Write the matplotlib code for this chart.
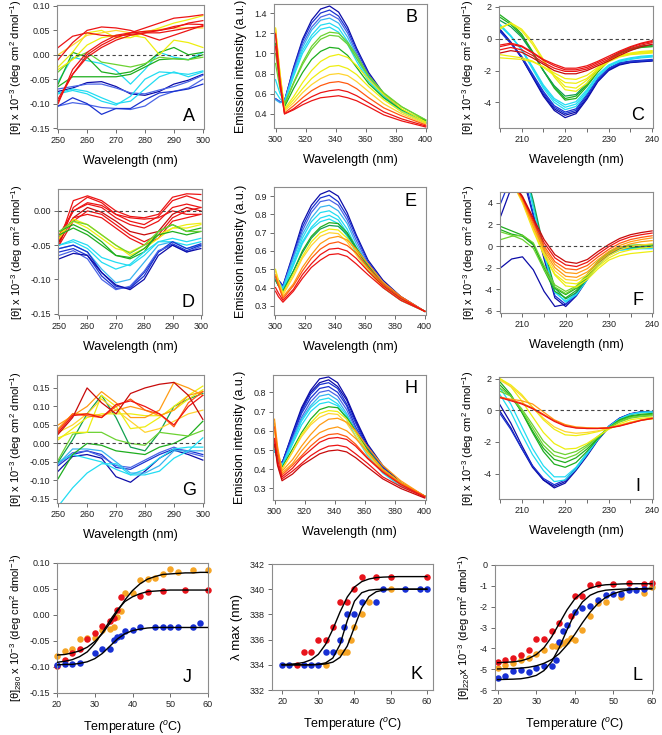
import matplotlib
matplotlib.use('Agg')
import matplotlib.pyplot as plt
from matplotlib.ticker import FormatStrFormatter

plt.rcParams['font.family'] = ['Liberation Sans', 'DejaVu Sans']
plt.rcParams['mathtext.fontset'] = 'custom'
plt.rcParams['mathtext.rm'] = 'Liberation Sans'
plt.rcParams['mathtext.it'] = 'Liberation Sans:italic'
plt.rcParams['mathtext.bf'] = 'Liberation Sans:bold'
plt.rcParams['axes.unicode_minus'] = False

# ---------------- DATA ----------------
# near-UV CD wavelengths (nm)
nuv_wl = [250, 255, 260, 265, 270, 275, 280, 285, 290, 295, 300]
# far-UV CD wavelengths (nm)
fuv_wl = [205, 207.5, 210, 212.5, 215, 217.5, 220, 222.5, 225, 227.5, 230, 232.5, 235, 237.5, 240]
# emission wavelengths (nm)
em_wl_B = [300, 303, 306, 312, 318, 324, 330, 336, 342, 348, 354, 362, 372, 384, 400]
em_wl_EH = [300, 302, 305, 312, 318, 324, 330, 336, 342, 348, 354, 362, 372, 384, 400]

A_curves = [
    [-0.105, -0.098, -0.102, -0.108, -0.11, -0.112, -0.105, -0.085, -0.075, -0.068, -0.05],
    [-0.105, -0.088, -0.1, -0.122, -0.11, -0.11, -0.092, -0.078, -0.075, -0.07, -0.06],
    [-0.075, -0.068, -0.057, -0.055, -0.065, -0.08, -0.083, -0.075, -0.06, -0.052, -0.04],
    [-0.07, -0.065, -0.06, -0.06, -0.068, -0.078, -0.08, -0.072, -0.065, -0.055, -0.042],
    [-0.078, -0.07, -0.075, -0.088, -0.1, -0.095, -0.07, -0.045, -0.035, -0.045, -0.035],
    [-0.08, -0.073, -0.08, -0.095, -0.103, -0.085, -0.05, -0.035, -0.037, -0.04, -0.033],
    [-0.055, -0.005, -0.012, -0.018, -0.032, -0.06, -0.03, 0.005, -0.005, -0.01, 0.005],
    [-0.06, 0.005, -0.005, -0.035, -0.04, -0.035, -0.02, 0.005, 0.015, 0.0, 0.005],
    [-0.065, -0.045, -0.045, -0.045, -0.045, -0.04, -0.025, -0.01, -0.008, -0.01, 0.0],
    [-0.035, -0.008, 0.005, -0.015, -0.02, -0.025, -0.018, -0.005, -0.008, -0.01, -0.005],
    [-0.03, -0.01, 0.02, 0.035, 0.04, 0.04, 0.035, 0.0, 0.03, 0.025, 0.015],
    [-0.025, 0.005, 0.045, 0.05, 0.035, 0.035, 0.045, 0.055, 0.065, 0.072, 0.08],
    [0.0, 0.02, 0.04, 0.045, 0.05, 0.045, 0.048, 0.052, 0.055, 0.055, 0.055],
    [-0.01, 0.025, 0.05, 0.057, 0.055, 0.05, 0.04, 0.03, 0.04, 0.05, 0.06],
    [-0.095, -0.04, 0.0, 0.02, 0.035, 0.045, 0.048, 0.05, 0.055, 0.065, 0.07],
    [-0.1, -0.03, 0.005, 0.025, 0.04, 0.045, 0.055, 0.065, 0.075, 0.078, 0.082],
    [-0.09, -0.04, -0.005, 0.015, 0.03, 0.04, 0.045, 0.05, 0.058, 0.063, 0.062],
    [0.015, 0.038, 0.045, 0.04, 0.038, 0.042, 0.045, 0.045, 0.05, 0.055, 0.058],
]
A_colors = "lbBlcccggGyyYrrrrr"

B_curves = [
    [.55, .52, .53, .86, 1.14, 1.33, 1.44, 1.47, 1.41, 1.26, 1.05, .81, .60, .44, .31],
    [.55, .52, .53, .85, 1.12, 1.30, 1.40, 1.43, 1.37, 1.23, 1.03, .79, .59, .43, .31],
    [.55, .52, .53, .83, 1.09, 1.26, 1.36, 1.39, 1.34, 1.20, 1.00, .77, .58, .43, .31],
    [.54, .51, .52, .81, 1.06, 1.23, 1.33, 1.35, 1.30, 1.16, .98, .76, .57, .42, .31],
    [.74, .60, .52, .79, 1.03, 1.18, 1.28, 1.30, 1.25, 1.12, .95, .74, .57, .43, .32],
    [.62, .55, .51, .77, 1.00, 1.15, 1.24, 1.26, 1.21, 1.09, .92, .72, .56, .42, .32],
    [.90, .65, .50, .71, .91, 1.07, 1.17, 1.21, 1.20, 1.11, .98, .78, .61, .47, .34],
    [1.00, .70, .49, .70, .89, 1.04, 1.14, 1.18, 1.17, 1.09, .95, .77, .60, .47, .34],
    [1.10, .75, .47, .65, .81, .94, 1.02, 1.06, 1.05, .98, .86, .70, .56, .44, .33],
    [1.25, .80, .45, .57, .71, .83, .92, .97, .99, .96, .88, .74, .59, .45, .32],
    [1.25, .80, .44, .54, .65, .75, .82, .87, .88, .85, .79, .67, .54, .42, .31],
    [1.24, .78, .43, .51, .61, .69, .75, .79, .80, .78, .72, .62, .50, .40, .30],
    [1.20, .75, .41, .48, .56, .63, .68, .71, .72, .70, .65, .56, .46, .38, .29],
    [1.19, .72, .40, .45, .52, .57, .61, .63, .64, .62, .58, .51, .42, .35, .28],
    [1.07, .68, .40, .44, .49, .53, .56, .57, .58, .56, .53, .47, .39, .33, .27],
]
B_colors = "BblCccGGgyyYOrr"

C_curves = [
    [0.6, -0.2, -1.2, -2.4, -3.6, -4.5, -4.95, -4.7, -3.8, -2.7, -2.0, -1.65, -1.5, -1.45, -1.4],
    [0.55, -0.25, -1.2, -2.35, -3.5, -4.4, -4.8, -4.6, -3.7, -2.65, -1.95, -1.6, -1.48, -1.42, -1.38],
    [0.5, -0.25, -1.15, -2.3, -3.4, -4.3, -4.7, -4.5, -3.6, -2.6, -1.9, -1.55, -1.45, -1.4, -1.35],
    [0.45, -0.3, -1.1, -2.2, -3.3, -4.2, -4.6, -4.4, -3.5, -2.5, -1.85, -1.5, -1.4, -1.35, -1.3],
    [0.9, 0.2, -0.7, -1.9, -3.1, -4.0, -4.45, -4.25, -3.4, -2.4, -1.75, -1.45, -1.3, -1.2, -1.15],
    [0.85, 0.15, -0.7, -1.8, -3.0, -3.85, -4.3, -4.1, -3.3, -2.3, -1.7, -1.4, -1.25, -1.15, -1.1],
    [0.8, 0.15, -0.65, -1.75, -2.9, -3.75, -4.15, -3.95, -3.2, -2.25, -1.65, -1.35, -1.2, -1.1, -1.05],
    [1.5, 1.0, 0.3, -0.8, -2.0, -3.1, -3.85, -3.75, -3.0, -2.1, -1.4, -0.95, -0.7, -0.55, -0.5],
    [1.35, 0.9, 0.2, -0.85, -2.0, -3.0, -3.75, -3.6, -2.9, -2.0, -1.35, -0.9, -0.65, -0.5, -0.45],
    [1.15, 0.75, 0.1, -0.9, -2.0, -2.95, -3.6, -3.5, -2.8, -1.95, -1.3, -0.85, -0.6, -0.45, -0.4],
    [0.6, 1.0, 0.6, -0.2, -1.3, -2.4, -3.2, -3.3, -2.8, -2.0, -1.45, -1.15, -1.0, -0.95, -0.9],
    [0.7, 0.95, 0.5, -0.35, -1.4, -2.3, -3.0, -3.1, -2.6, -1.9, -1.4, -1.1, -0.95, -0.9, -0.85],
    [-1.0, -1.1, -1.2, -1.4, -1.8, -2.3, -2.75, -2.8, -2.5, -1.9, -1.4, -1.1, -0.95, -0.85, -0.8],
    [-1.2, -1.25, -1.3, -1.45, -1.75, -2.15, -2.5, -2.55, -2.3, -1.8, -1.35, -1.05, -0.9, -0.8, -0.75],
    [-0.9, -0.75, -0.85, -1.2, -1.6, -2.0, -2.2, -2.2, -2.0, -1.7, -1.4, -1.05, -0.75, -0.5, -0.35],
    [-0.7, -0.55, -0.7, -1.05, -1.5, -1.85, -2.05, -2.05, -1.9, -1.6, -1.3, -0.95, -0.65, -0.4, -0.25],
    [-0.5, -0.35, -0.5, -0.9, -1.35, -1.7, -1.95, -1.95, -1.8, -1.5, -1.2, -0.85, -0.55, -0.32, -0.18],
    [-0.4, -0.28, -0.45, -0.85, -1.3, -1.6, -1.85, -1.85, -1.7, -1.42, -1.1, -0.78, -0.5, -0.28, -0.12],
]
C_colors = "BBbbcccggeyyyyRrrr"

D_curves = [
    [-0.045, 0.015, 0.022, 0.015, 0.0, -0.008, -0.01, -0.005, 0.02, 0.025, 0.024],
    [-0.05, 0.005, 0.02, 0.012, -0.005, -0.015, -0.02, -0.008, 0.015, 0.022, 0.015],
    [-0.04, 0.0, 0.01, 0.005, -0.01, -0.02, -0.025, -0.015, 0.005, 0.01, 0.005],
    [-0.045, -0.01, 0.005, -0.002, -0.015, -0.03, -0.035, -0.03, -0.005, 0.005, 0.0],
    [-0.05, -0.015, 0.0, -0.005, -0.02, -0.035, -0.045, -0.035, -0.01, 0.0, 0.005],
    [-0.04, -0.01, -0.005, -0.01, -0.025, -0.04, -0.05, -0.04, -0.015, -0.01, -0.005],
    [-0.035, 0.0, 0.012, 0.008, -0.005, -0.01, -0.012, -0.01, 0.0, -0.005, -0.005],
    [-0.04, -0.012, -0.02, -0.035, -0.05, -0.065, -0.055, -0.04, -0.025, -0.02, -0.018],
    [-0.035, -0.015, -0.025, -0.04, -0.055, -0.06, -0.05, -0.035, -0.025, -0.025, -0.02],
    [-0.03, -0.02, -0.03, -0.045, -0.065, -0.07, -0.06, -0.03, -0.02, -0.03, -0.025],
    [-0.035, -0.025, -0.035, -0.05, -0.065, -0.068, -0.055, -0.035, -0.03, -0.035, -0.03],
    [-0.03, -0.015, -0.02, -0.035, -0.05, -0.062, -0.05, -0.03, -0.02, -0.03, -0.03],
    [-0.05, -0.042, -0.05, -0.068, -0.075, -0.08, -0.065, -0.045, -0.04, -0.045, -0.04],
    [-0.05, -0.045, -0.055, -0.075, -0.085, -0.078, -0.06, -0.045, -0.045, -0.05, -0.045],
    [-0.055, -0.05, -0.06, -0.085, -0.105, -0.1, -0.075, -0.05, -0.045, -0.055, -0.05],
    [-0.055, -0.05, -0.06, -0.09, -0.11, -0.113, -0.095, -0.06, -0.045, -0.055, -0.048],
    [-0.06, -0.055, -0.065, -0.095, -0.113, -0.112, -0.09, -0.06, -0.048, -0.058, -0.05],
    [-0.065, -0.058, -0.07, -0.1, -0.115, -0.11, -0.088, -0.058, -0.05, -0.06, -0.052],
    [-0.07, -0.062, -0.065, -0.09, -0.108, -0.115, -0.1, -0.065, -0.05, -0.06, -0.055],
]
D_colors = "rrrRrrryyggGccCbblB"

E_curves = [
    [.46, .44, .41, .59, .75, .85, .91, .93, .90, .81, .69, .55, .44, .35, .27],
    [.46, .44, .41, .58, .73, .83, .89, .905, .87, .79, .68, .54, .43, .35, .27],
    [.46, .43, .40, .57, .71, .81, .87, .88, .85, .77, .66, .53, .42, .34, .27],
    [.45, .43, .40, .56, .69, .78, .84, .85, .82, .75, .64, .52, .42, .34, .27],
    [.45, .42, .39, .54, .67, .76, .81, .82, .79, .72, .62, .51, .41, .34, .27],
    [.45, .42, .39, .53, .65, .73, .78, .795, .77, .70, .61, .50, .40, .33, .27],
    [.45, .41, .38, .52, .64, .72, .76, .775, .75, .68, .59, .49, .40, .33, .27],
    [.44, .41, .38, .49, .60, .68, .73, .755, .75, .70, .62, .52, .42, .34, .27],
    [.44, .41, .38, .49, .59, .67, .72, .74, .735, .69, .61, .51, .42, .34, .27],
    [.50, .44, .37, .475, .57, .65, .70, .72, .715, .67, .60, .50, .41, .34, .27],
    [.49, .43, .36, .46, .56, .63, .68, .70, .695, .65, .58, .49, .40, .33, .27],
    [.47, .42, .35, .42, .51, .58, .64, .67, .68, .66, .61, .53, .43, .35, .27],
    [.46, .41, .34, .41, .49, .56, .61, .64, .65, .63, .59, .51, .42, .35, .27],
    [.40, .37, .33, .39, .47, .53, .58, .61, .615, .60, .56, .49, .41, .34, .27],
    [.38, .35, .32, .38, .45, .51, .55, .58, .585, .57, .53, .47, .40, .33, .27],
]
E_colors = "BblCcccgeyYoOrr"

F_curves = [
    [-2.0, -1.2, -1.0, -2.2, -4.2, -5.6, -5.4, -4.3, -2.9, -1.5, -0.6, -0.15, 0.0, 0.05, 0.05],
    [2.8, 5.5, 6.5, 2.8, -1.2, -4.8, -5.6, -4.6, -3.1, -1.7, -0.7, -0.2, 0.0, 0.05, 0.05],
    [4.0, 6.5, 7.0, 3.0, -1.0, -4.6, -5.4, -4.5, -3.0, -1.65, -0.7, -0.2, -0.05, 0.0, 0.0],
    [6.0, 8.0, 8.0, 3.8, -0.6, -4.2, -5.2, -4.5, -3.1, -1.8, -0.85, -0.4, -0.3, -0.25, -0.25],
    [6.0, 8.0, 8.0, 3.5, -0.8, -4.3, -5.1, -4.4, -3.0, -1.7, -0.8, -0.35, -0.25, -0.2, -0.2],
    [6.0, 8.0, 8.0, 4.2, -0.3, -3.9, -4.9, -4.3, -3.0, -1.7, -0.8, -0.3, -0.15, -0.1, -0.1],
    [1.8, 1.4, 1.0, 0.2, -2.2, -4.2, -4.8, -4.1, -2.8, -1.5, -0.6, -0.15, 0.0, 0.05, 0.1],
    [1.5, 1.1, 0.9, 0.1, -2.0, -3.9, -4.5, -3.9, -2.7, -1.45, -0.55, -0.1, 0.05, 0.1, 0.1],
    [0.6, 0.9, 1.0, 0.3, -1.8, -3.6, -4.2, -3.7, -2.6, -1.4, -0.55, -0.1, 0.05, 0.1, 0.15],
    [1.3, 1.0, 0.6, -0.2, -2.2, -3.8, -4.4, -3.8, -2.65, -1.45, -0.6, -0.15, 0.0, 0.05, 0.1],
    [7.0, 6.0, 4.2, 1.6, -0.8, -2.7, -3.7, -3.8, -3.1, -2.1, -1.3, -0.9, -0.7, -0.6, -0.5],
    [7.0, 6.0, 4.0, 1.4, -0.9, -2.6, -3.4, -3.5, -2.9, -1.9, -1.1, -0.6, -0.35, -0.2, -0.1],
    [7.0, 6.0, 4.1, 1.6, -0.6, -2.3, -3.1, -3.2, -2.65, -1.7, -0.9, -0.35, -0.05, 0.1, 0.2],
    [7.0, 6.0, 4.2, 1.8, -0.4, -2.0, -2.8, -2.9, -2.4, -1.5, -0.7, -0.15, 0.2, 0.4, 0.5],
    [7.0, 6.0, 4.3, 2.0, -0.2, -1.7, -2.45, -2.55, -2.1, -1.25, -0.5, 0.05, 0.4, 0.6, 0.75],
    [7.0, 6.0, 4.4, 2.2, 0.0, -1.45, -2.1, -2.2, -1.8, -1.0, -0.3, 0.25, 0.6, 0.8, 0.95],
    [7.0, 6.0, 4.5, 2.4, 0.3, -1.1, -1.75, -1.9, -1.5, -0.75, -0.05, 0.5, 0.85, 1.05, 1.2],
    [7.0, 6.0, 4.6, 2.6, 0.6, -0.8, -1.45, -1.6, -1.25, -0.5, 0.15, 0.7, 1.05, 1.25, 1.4],
]
F_colors = "BBbcceggGGyyYooOrR"

G_curves = [
    [-0.075, -0.035, -0.03, -0.04, -0.09, -0.105, -0.075, -0.04, -0.018, -0.03, -0.045],
    [-0.06, -0.03, -0.02, -0.03, -0.065, -0.07, -0.05, -0.03, -0.015, -0.02, -0.03],
    [-0.055, -0.025, -0.02, -0.035, -0.06, -0.065, -0.045, -0.025, -0.01, -0.025, -0.035],
    [-0.05, -0.03, -0.04, -0.05, -0.07, -0.085, -0.07, -0.04, -0.015, -0.01, -0.01],
    [-0.17, -0.12, -0.08, -0.055, -0.055, -0.085, -0.085, -0.075, -0.04, -0.02, 0.015],
    [-0.055, -0.015, -0.015, -0.02, -0.05, -0.08, -0.08, -0.06, -0.02, -0.02, -0.02],
    [-0.095, -0.03, 0.0, -0.005, -0.02, -0.025, -0.03, -0.01, 0.0, 0.02, 0.06],
    [-0.05, 0.01, 0.08, 0.13, 0.07, -0.01, -0.02, 0.03, 0.1, 0.12, 0.135],
    [-0.045, 0.025, 0.03, 0.03, 0.01, 0.0, -0.005, 0.03, 0.025, 0.02, 0.035],
    [0.015, 0.03, 0.03, 0.13, 0.1, 0.04, 0.045, 0.07, 0.1, 0.13, 0.155],
    [0.03, 0.05, 0.08, 0.12, 0.09, 0.06, 0.03, 0.04, 0.06, 0.08, 0.09],
    [0.01, 0.04, 0.07, 0.08, 0.08, 0.08, 0.075, 0.075, 0.09, 0.12, 0.145],
    [0.05, 0.075, 0.1, 0.14, 0.11, 0.07, 0.07, 0.09, 0.165, 0.15, 0.13],
    [0.04, 0.08, 0.08, 0.075, 0.09, 0.1, 0.09, 0.075, 0.09, 0.13, 0.14],
    [0.035, 0.08, 0.075, 0.07, 0.1, 0.12, 0.09, 0.08, 0.045, 0.11, 0.14],
    [0.025, 0.07, 0.15, 0.11, 0.08, 0.135, 0.15, 0.16, 0.165, 0.13, 0.065],
    [0.03, 0.075, 0.08, 0.07, 0.105, 0.115, 0.1, 0.08, 0.05, 0.1, 0.13],
]
G_colors = "BblccCgeGyYyooORr"

H_curves = [
    [.50, .46, .43, .59, .72, .81, .87, .88, .85, .77, .66, .53, .42, .33, .26],
    [.50, .46, .43, .58, .71, .80, .85, .865, .83, .76, .65, .52, .41, .33, .26],
    [.50, .46, .43, .58, .70, .79, .84, .85, .82, .74, .64, .51, .41, .32, .26],
    [.50, .46, .43, .57, .69, .77, .82, .83, .80, .73, .62, .51, .40, .32, .26],
    [.50, .46, .42, .56, .67, .75, .80, .81, .78, .71, .61, .50, .40, .32, .26],
    [.50, .46, .42, .55, .66, .73, .78, .79, .76, .69, .60, .49, .39, .32, .26],
    [.50, .46, .42, .54, .65, .72, .76, .77, .74, .68, .59, .48, .39, .32, .26],
    [.50, .45, .41, .53, .63, .70, .74, .75, .73, .66, .57, .47, .38, .31, .26],
    [.52, .47, .41, .505, .59, .66, .71, .725, .72, .67, .60, .50, .40, .33, .26],
    [.60, .50, .40, .49, .58, .64, .69, .705, .70, .66, .59, .49, .40, .33, .26],
    [.60, .50, .40, .49, .57, .63, .67, .69, .685, .64, .57, .48, .39, .32, .26],
    [.66, .52, .39, .45, .52, .58, .63, .66, .665, .645, .60, .515, .42, .34, .26],
    [.64, .50, .38, .43, .495, .55, .59, .61, .62, .60, .56, .49, .40, .33, .26],
    [.62, .49, .37, .42, .47, .52, .56, .58, .585, .57, .53, .46, .39, .325, .26],
    [.56, .45, .36, .405, .46, .50, .54, .56, .565, .555, .52, .455, .385, .32, .255],
    [.55, .43, .35, .39, .43, .47, .50, .52, .525, .515, .48, .43, .36, .31, .255],
    [.53, .42, .34, .375, .42, .45, .48, .495, .50, .49, .46, .41, .35, .30, .25],
]
H_colors = "BBbblCccgyYooOrrR"

I_curves = [
    [0.35, -0.8, -2.2, -3.5, -4.4, -4.9, -4.6, -3.8, -2.9, -1.9, -1.1, -0.55, -0.25, -0.12, -0.1],
    [-0.05, -1.1, -2.4, -3.6, -4.4, -4.8, -4.5, -3.7, -2.8, -1.85, -1.05, -0.5, -0.22, -0.1, -0.08],
    [-0.2, -1.2, -2.4, -3.5, -4.3, -4.7, -4.4, -3.65, -2.75, -1.8, -1.0, -0.5, -0.22, -0.1, -0.08],
    [1.0, -0.1, -1.5, -2.8, -3.8, -4.5, -4.4, -3.7, -2.8, -1.85, -1.05, -0.55, -0.25, -0.12, -0.1],
    [1.4, 0.4, -1.0, -2.4, -3.5, -4.2, -4.2, -3.6, -2.7, -1.8, -1.05, -0.55, -0.25, -0.15, -0.12],
    [1.8, 1.0, -0.1, -1.4, -2.6, -3.4, -3.6, -3.3, -2.6, -1.8, -1.1, -0.6, -0.35, -0.25, -0.2],
    [1.6, 0.9, -0.1, -1.3, -2.4, -3.1, -3.3, -3.0, -2.45, -1.75, -1.1, -0.65, -0.4, -0.3, -0.25],
    [1.4, 0.9, 0.0, -1.1, -2.2, -2.85, -3.05, -2.8, -2.3, -1.7, -1.1, -0.7, -0.45, -0.35, -0.3],
    [1.2, 0.9, 0.1, -0.9, -1.95, -2.6, -2.8, -2.6, -2.2, -1.65, -1.15, -0.75, -0.5, -0.4, -0.35],
    [2.0, 1.5, 0.6, -0.4, -1.4, -2.1, -2.45, -2.4, -2.1, -1.65, -1.2, -0.85, -0.6, -0.5, -0.45],
    [2.0, 1.6, 1.0, 0.2, -0.6, -1.2, -1.55, -1.6, -1.5, -1.35, -1.15, -0.95, -0.75, -0.6, -0.55],
    [1.9, 1.5, 0.9, 0.2, -0.5, -1.05, -1.35, -1.45, -1.4, -1.3, -1.15, -0.95, -0.75, -0.62, -0.55],
    [0.8, 0.7, 0.6, 0.4, -0.1, -0.6, -0.9, -1.05, -1.1, -1.12, -1.1, -0.95, -0.8, -0.62, -0.5],
    [0.85, 0.65, 0.45, 0.15, -0.25, -0.65, -0.95, -1.1, -1.15, -1.15, -1.1, -0.98, -0.8, -0.62, -0.5],
    [0.8, 0.6, 0.4, 0.1, -0.3, -0.7, -1.0, -1.12, -1.15, -1.15, -1.12, -1.0, -0.82, -0.64, -0.52],
]
I_colors = "BBbccggGGyyYoOr"

# thermal transitions
fit_T = [20, 22, 24, 26, 28, 30, 32, 34, 36, 38, 40, 42, 44, 46, 48, 50, 52, 54, 56, 58, 60]

J_orange_T = [20, 22, 24, 26, 28, 30, 32, 34, 35, 36, 37, 38, 40, 42, 44, 46, 48, 50, 52, 56, 60]
J_orange_v = [-0.078, -0.069, -0.065, -0.047, -0.044, -0.045, -0.028, -0.026, -0.023, -0.003, 0.007,
              0.042, 0.042, 0.068, 0.070, 0.072, 0.078, 0.088, 0.083, 0.086, 0.087]
J_red_T = [20, 22, 24, 26, 28, 30, 32, 34, 35, 36, 37, 42, 44, 48, 54, 60]
J_red_v = [-0.099, -0.087, -0.074, -0.065, -0.047, -0.035, -0.021, -0.012, -0.005, 0.009, 0.034,
           0.037, 0.045, 0.047, 0.049, 0.049]
J_blue_T = [20, 22, 24, 26, 30, 32, 34, 35, 36, 37, 38, 40, 42, 46, 48, 50, 52, 56, 58]
J_blue_v = [-0.096, -0.094, -0.094, -0.092, -0.073, -0.065, -0.065, -0.049, -0.042, -0.040, -0.031,
            -0.029, -0.023, -0.023, -0.023, -0.023, -0.023, -0.023, -0.015]
J_fit_orange = [-0.077, -0.076, -0.073, -0.069, -0.062, -0.051, -0.036, -0.016, 0.007, 0.029, 0.047,
                0.060, 0.069, 0.074, 0.078, 0.079, 0.080, 0.081, 0.081, 0.082, 0.082]
J_fit_red = [-0.091, -0.089, -0.086, -0.080, -0.071, -0.055, -0.034, -0.011, 0.010, 0.026, 0.035,
             0.041, 0.045, 0.046, 0.047, 0.048, 0.048, 0.048, 0.048, 0.048, 0.048]
J_fit_blue = [-0.096, -0.095, -0.095, -0.093, -0.090, -0.084, -0.074, -0.060, -0.046, -0.036, -0.030,
              -0.027, -0.025, -0.024, -0.024, -0.024, -0.024, -0.024, -0.024, -0.024, -0.024]

K_orange_T = [32, 36, 37, 38, 39, 40, 42, 44, 50]
K_orange_v = [334, 335, 335, 335, 336, 337, 338, 339, 340]
K_red_T = [24, 26, 28, 30, 32, 34, 36, 38, 40, 42, 46, 50, 60]
K_red_v = [334, 335, 335, 336, 336, 337, 339, 339, 340, 341, 341, 341, 341]
K_blue_T = [20, 22, 26, 28, 30, 32, 34, 36, 37, 38, 40, 42, 46, 48, 54, 58, 60]
K_blue_v = [334, 334, 334, 334, 334, 335, 335, 336, 337, 338, 338, 339, 339, 340, 340, 340, 340]
K_fit_red = [334.02, 334.04, 334.09, 334.19, 334.40, 334.83, 335.62, 336.81, 338.19, 339.38, 340.17,
             340.60, 340.81, 340.92, 340.96, 340.98, 341.0, 341.0, 341.0, 341.0, 341.0]
K_fit_blue = [334.0, 334.0, 334.0, 334.0, 334.01, 334.04, 334.15, 334.53, 335.61, 337.50, 339.05,
              339.72, 339.92, 339.98, 340.0, 340.0, 340.0, 340.0, 340.0, 340.0, 340.0]
K_fit_orange = [334.0, 334.0, 334.0, 334.0, 334.0, 334.02, 334.07, 334.21, 334.59, 335.49, 337.0,
                338.51, 339.41, 339.80, 339.93, 339.98, 340.0, 340.0, 340.0, 340.0, 340.0]

L_orange_T = [20, 22, 24, 26, 28, 30, 32, 34, 35, 36, 37, 38, 39, 40, 42, 44, 46, 48, 52, 58, 60]
L_orange_v = [-4.93, -4.8, -4.7, -4.57, -4.45, -4.28, -4.07, -3.9, -3.88, -3.82, -3.75, -3.65, -3.5,
              -3.6, -3.12, -2.43, -1.82, -1.78, -1.55, -1.35, -1.05]
L_red_T = [20, 22, 24, 26, 28, 30, 32, 34, 36, 39, 40, 42, 44, 46, 50, 54, 58, 60]
L_red_v = [-4.65, -4.55, -4.45, -4.3, -4.07, -3.57, -3.55, -3.17, -2.77, -2.43, -1.5, -1.47, -0.97,
           -0.93, -0.9, -0.88, -0.9, -0.88]
L_blue_T = [20, 22, 24, 26, 28, 30, 32, 34, 35, 36, 37, 38, 40, 42, 44, 46, 48, 50, 52, 54, 56, 58]
L_blue_v = [-5.42, -5.33, -5.1, -5.05, -5.15, -4.95, -4.85, -4.85, -4.55, -3.7, -3.17, -2.9, -2.25,
            -2.05, -1.97, -1.7, -1.43, -1.4, -1.37, -1.2, -1.2, -1.15]
L_fit_red = [-4.69, -4.67, -4.65, -4.60, -4.49, -4.30, -3.97, -3.45, -2.80, -2.15, -1.63, -1.30, -1.11,
             -1.00, -0.95, -0.93, -0.91, -0.90, -0.90, -0.90, -0.90]
L_fit_blue = [-5.50, -5.49, -5.48, -5.46, -5.40, -5.30, -5.07, -4.64, -3.96, -3.11, -2.32, -1.77, -1.45,
              -1.29, -1.21, -1.18, -1.16, -1.15, -1.15, -1.15, -1.15]
L_fit_orange = [-4.99, -4.98, -4.97, -4.95, -4.91, -4.84, -4.72, -4.54, -4.25, -3.84, -3.33, -2.77,
                -2.26, -1.85, -1.56, -1.38, -1.26, -1.19, -1.15, -1.13, -1.12]

# ---------------- STYLE ----------------
palette = {
    'B': '#0c0ca8', 'b': '#1a32d0', 'l': '#4a64e6',
    'C': '#38b4f0', 'c': '#22dcf2',
    'g': '#1eae1e', 'e': '#12a050', 'G': '#6cd232',
    'y': '#eeee10', 'Y': '#ffd430',
    'o': '#ff9c14', 'O': '#ff5a10',
    'r': '#ec1414', 'R': '#c80a0a',
}
ORANGE = '#f6a526'
RED = '#e8141c'
BLUE = '#1830d4'

W, H = 662, 735
fig = plt.figure(figsize=(W / 100, H / 100), dpi=100)


def box(l, r, t, b):
    return [l / W, 1 - b / H, (r - l) / W, (b - t) / H]


cd_label = '[θ] x 10$^{-3}$ (deg cm$^{2}$ dmol$^{-1}$)'
em_label = 'Emission intensity (a.u.)'


def style(ax):
    for s in ax.spines.values():
        s.set_color('#8c8c8c')
        s.set_linewidth(0.8)
    ax.tick_params(direction='out', length=3, width=0.6, colors='#555555',
                   labelsize=6.5, labelcolor='#222222', pad=2)


def spectra(ax, wl, curves, colors):
    for vals, code in zip(curves, colors):
        ax.plot(wl, vals, color=palette[code], lw=0.9)


def zero(ax, xl):
    ax.plot(xl, [0, 0], color='#444444', lw=0.8, ls=(0, (3, 2.5)), zorder=5)


def letter(ax, s, x, y):
    ax.text(x, y, s, transform=ax.transAxes, fontsize=13, ha='center', va='center')


nuv_ticks = [250, 260, 270, 280, 290, 300]
fuv_ticks = [205, 210, 215, 220, 225, 230, 235, 240]
fuv_lbls = ['', '210', '', '220', '', '230', '', '240']
em_ticks = [300, 320, 340, 360, 380, 400]

panels = [
    ('A', box(57, 204, 5, 129), 'nuv', A_curves, A_colors, (-0.152, 0.102),
     [-0.15, -0.10, -0.05, 0.0, 0.05, 0.10], '%.2f', (0.9, 0.1)),
    ('B', box(274, 427, 4, 128), 'emB', B_curves, B_colors, (0.26, 1.49),
     [0.4, 0.6, 0.8, 1.0, 1.2, 1.4], '%.1f', (0.9, 0.89)),
    ('C', box(499, 653, 6, 128), 'fuv', C_curves, C_colors, (-5.6, 2.05),
     [-4, -2, 0, 2], '%d', (0.9, 0.1)),
    ('D', box(58, 202, 189, 315), 'nuv', D_curves, D_colors, (-0.152, 0.032),
     [-0.15, -0.10, -0.05, 0.0], '%.2f', (0.9, 0.1)),
    ('E', box(274, 426, 187, 315), 'em', E_curves, E_colors, (0.25, 0.95),
     [0.3, 0.4, 0.5, 0.6, 0.7, 0.8, 0.9], '%.1f', (0.9, 0.89)),
    ('F', box(500, 653, 192, 313), 'fuv', F_curves, F_colors, (-6.2, 5.0),
     [-6, -4, -2, 0, 2, 4], '%d', (0.9, 0.1)),
    ('G', box(57, 204, 375, 503), 'nuv', G_curves, G_colors, (-0.161, 0.185),
     [-0.15, -0.10, -0.05, 0.0, 0.05, 0.10, 0.15], '%.2f', (0.9, 0.1)),
    ('H', box(273, 426, 375, 500), 'em', H_curves, H_colors, (0.24, 0.89),
     [0.3, 0.4, 0.5, 0.6, 0.7, 0.8], '%.1f', (0.9, 0.89)),
    ('I', box(499, 653, 377, 499), 'fuv', I_curves, I_colors, (-5.6, 2.1),
     [-4, -2, 0, 2], '%d', (0.9, 0.1)),
]

for name, bx, kind, curves, colors, ylim, yticks, fmt, lp in panels:
    ax = fig.add_axes(bx)
    style(ax)
    if kind == 'nuv':
        spectra(ax, nuv_wl, curves, colors)
        xl = (249.6, 300.4)
        zero(ax, xl)
        ax.set_xticks(nuv_ticks)
        ax.set_ylabel(cd_label, fontsize=8, labelpad=4)
    elif kind == 'fuv':
        spectra(ax, fuv_wl, curves, colors)
        xl = (204.8, 240.2)
        zero(ax, xl)
        ax.set_xticks(fuv_ticks)
        ax.set_xticklabels(fuv_lbls)
        ax.set_ylabel(cd_label, fontsize=8, labelpad=6)
    else:
        wl = em_wl_B if kind == 'emB' else em_wl_EH
        spectra(ax, wl, curves, colors)
        xl = (299.0, 400.8)
        ax.set_xticks(em_ticks)
        ax.set_ylabel(em_label, fontsize=9, labelpad=5)
    ax.set_xlim(xl)
    ax.set_ylim(ylim)
    ax.set_yticks(yticks)
    ax.yaxis.set_major_formatter(FormatStrFormatter(fmt))
    ax.set_xlabel('Wavelength (nm)', fontsize=9, labelpad=7)
    letter(ax, name, *lp)

# bottom row
temp_label = 'Temperature ($^{o}$C)'

axJ = fig.add_axes(box(57, 208, 563, 693))
style(axJ)
axJ.scatter(J_orange_T, J_orange_v, s=22, color=ORANGE, zorder=2, clip_on=False, linewidths=0)
axJ.scatter(J_red_T, J_red_v, s=22, color=RED, zorder=2, clip_on=False, linewidths=0)
axJ.scatter(J_blue_T, J_blue_v, s=22, color=BLUE, zorder=2, clip_on=False, linewidths=0)
for f in (J_fit_orange, J_fit_red, J_fit_blue):
    axJ.plot(fit_T, f, color='black', lw=1.0, zorder=3)
axJ.set_xlim(20, 60)
axJ.set_ylim(-0.15, 0.10)
axJ.set_xticks([20, 30, 40, 50, 60])
axJ.set_yticks([-0.15, -0.10, -0.05, 0.0, 0.05, 0.10])
axJ.yaxis.set_major_formatter(FormatStrFormatter('%.2f'))
axJ.set_ylabel('[θ]$_{280}$ x 10$^{-3}$ (deg cm$^{2}$ dmol$^{-1}$)', fontsize=8, labelpad=4)
axJ.set_xlabel(temp_label, fontsize=9, labelpad=7)
letter(axJ, 'J', 0.86, 0.12)

axK = fig.add_axes(box(272, 433, 564, 690))
style(axK)
axK.scatter(K_orange_T, K_orange_v, s=22, color=ORANGE, zorder=2, clip_on=False, linewidths=0)
axK.scatter(K_red_T, K_red_v, s=22, color=RED, zorder=2, clip_on=False, linewidths=0)
axK.scatter(K_blue_T, K_blue_v, s=22, color=BLUE, zorder=2, clip_on=False, linewidths=0)
for f in (K_fit_orange, K_fit_red, K_fit_blue):
    axK.plot(fit_T, f, color='black', lw=1.0, zorder=3)
axK.set_xlim(17.2, 61.7)
axK.set_ylim(332, 342)
axK.set_xticks([20, 30, 40, 50, 60])
axK.set_yticks([332, 334, 336, 338, 340, 342])
axK.set_ylabel('λ max (nm)', fontsize=9.5, labelpad=5)
axK.set_xlabel(temp_label, fontsize=9, labelpad=7)
letter(axK, 'K', 0.9, 0.12)

axL = fig.add_axes(box(495, 653, 565, 690))
style(axL)
axL.scatter(L_orange_T, L_orange_v, s=22, color=ORANGE, zorder=2, clip_on=False, linewidths=0)
axL.scatter(L_red_T, L_red_v, s=22, color=RED, zorder=2, clip_on=False, linewidths=0)
axL.scatter(L_blue_T, L_blue_v, s=22, color=BLUE, zorder=2, clip_on=False, linewidths=0)
for f in (L_fit_orange, L_fit_red, L_fit_blue):
    axL.plot(fit_T, f, color='black', lw=1.0, zorder=3)
axL.set_xlim(19.3, 60.3)
axL.set_ylim(-6, 0)
axL.set_xticks([20, 30, 40, 50, 60])
axL.set_yticks([-6, -5, -4, -3, -2, -1, 0])
axL.set_ylabel('[θ]$_{220}$x 10$^{-3}$ (deg cm$^{2}$ dmol$^{-1}$)', fontsize=8, labelpad=6)
axL.set_xlabel(temp_label, fontsize=9, labelpad=7)
letter(axL, 'L', 0.9, 0.12)

fig.savefig('out.png', dpi=100)
